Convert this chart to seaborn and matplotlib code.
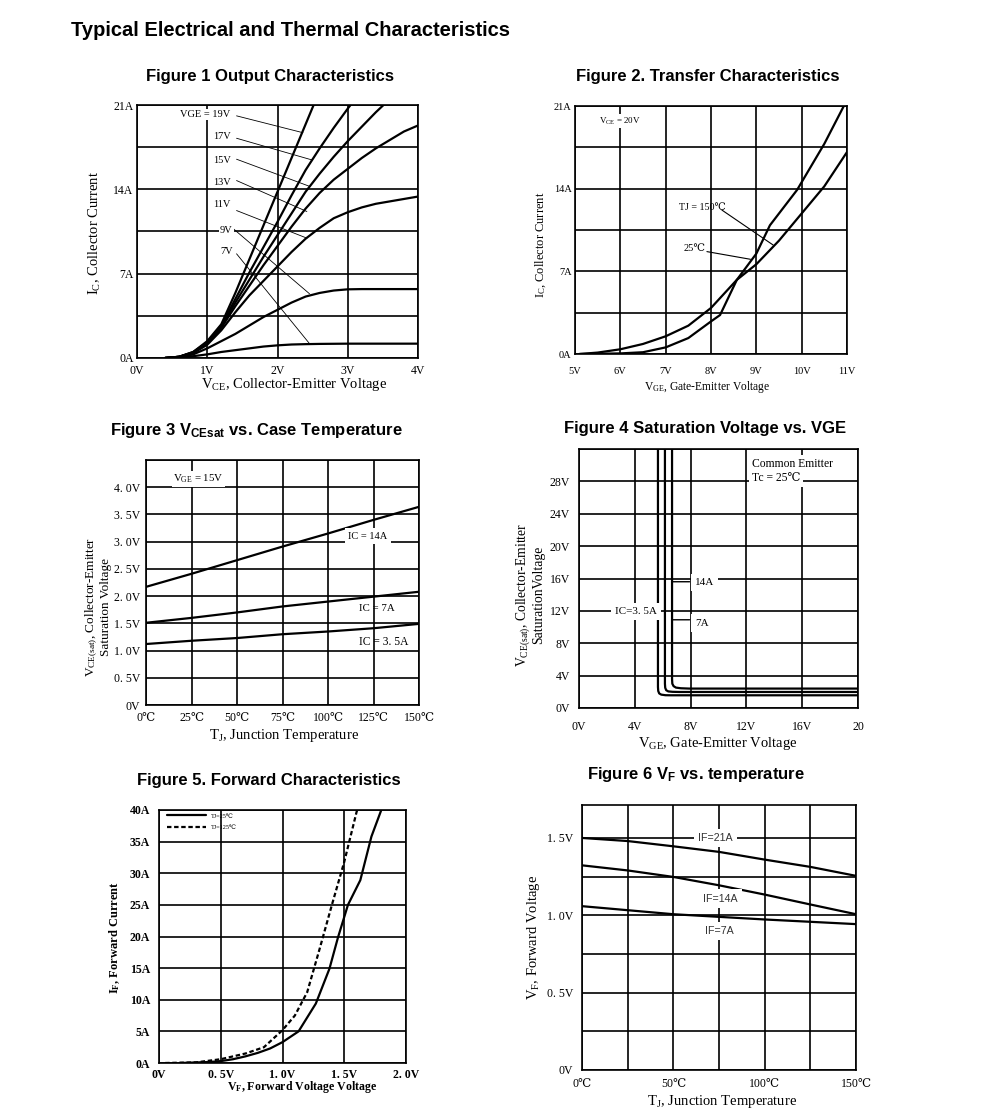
import numpy as np
import pandas as pd
import matplotlib
matplotlib.use("Agg")
import matplotlib.pyplot as plt
import seaborn as sns

sns.set_theme(style="white")
SERIF = ['Liberation Serif', 'DejaVu Serif', 'Noto Sans CJK SC']
SANS = ['Liberation Sans', 'DejaVu Sans', 'Noto Sans CJK SC']
plt.rcParams['font.family'] = SERIF
plt.rcParams['mathtext.default'] = 'regular'
plt.rcParams['text.color'] = 'black'
plt.rcParams['axes.labelcolor'] = 'black'
plt.rcParams['xtick.color'] = 'black'
plt.rcParams['ytick.color'] = 'black'

# ---------------- data ----------------
# Figure 1 output characteristics (VCE in V, IC in A)
f1_vce = [0.4, 0.6, 0.8, 1.0, 1.2, 1.4, 1.6, 1.8, 2.0, 2.2, 2.4, 2.6, 2.8, 3.0, 3.2, 3.4, 3.6, 3.8, 4.0]
f1_ic_19v = [0, 0.1, 0.5, 1.4, 2.8, 5.4, 8.2, 11.0, 13.8, 16.6, 19.4, 22.2]
f1_ic_17v = [0, 0.1, 0.5, 1.3, 2.7, 4.9, 7.1, 9.2, 11.3, 13.5, 15.6, 17.4, 19.1, 20.7, 22.2]
f1_ic_15v = [0, 0.1, 0.45, 1.25, 2.6, 4.6, 6.5, 8.4, 10.2, 12.0, 13.8, 15.3, 16.7, 18.0, 19.2, 20.4, 21.5]
f1_ic_13v = [0, 0.1, 0.45, 1.2, 2.5, 4.3, 6.0, 7.7, 9.3, 10.9, 12.4, 13.7, 14.8, 15.7, 16.6, 17.4, 18.1, 18.8, 19.3]
f1_ic_11v = [0, 0.1, 0.4, 1.1, 2.3, 3.8, 5.2, 6.4, 7.6, 8.8, 9.9, 10.8, 11.6, 12.1, 12.5, 12.8, 13.0, 13.2, 13.4]
f1_ic_9v = [0, 0.05, 0.3, 0.8, 1.4, 2.0, 2.7, 3.4, 4.0, 4.6, 5.1, 5.4, 5.6, 5.7, 5.72, 5.72, 5.72, 5.72, 5.72]
f1_ic_7v = [0, 0.03, 0.15, 0.3, 0.5, 0.65, 0.8, 0.95, 1.05, 1.12, 1.15, 1.17, 1.18, 1.19, 1.19, 1.19, 1.19, 1.19, 1.19]
f1_vge_labels = ["VGE = 19V", "17V", "15V", "13V", "11V", "9V", "7V"]

# Figure 2 transfer characteristics (VGE in V, IC in A)
f2_vge_150 = [5.1, 5.5, 6.0, 6.5, 7.0, 7.5, 8.0, 8.57, 9.0, 9.5, 10.0, 10.5, 11.0]
f2_ic_150 = [0, 0.12, 0.4, 0.85, 1.5, 2.4, 3.9, 6.28, 7.6, 9.6, 11.9, 14.2, 17.1]
f2_vge_25 = [5.1, 6.0, 6.5, 7.0, 7.5, 8.0, 8.2, 8.57, 9.0, 9.3, 9.9, 10.5, 10.93]
f2_ic_25 = [0, 0.05, 0.15, 0.56, 1.35, 2.76, 3.3, 6.28, 8.5, 10.9, 13.9, 17.8, 21.0]

# Figure 3 VCEsat vs temperature
f3_tj = [0, 25, 50, 75, 100, 125, 150]
f3_v_14a = [2.17, 2.41, 2.66, 2.91, 3.15, 3.40, 3.64]
f3_v_7a = [1.51, 1.60, 1.70, 1.81, 1.90, 1.99, 2.08]
f3_v_35a = [1.12, 1.18, 1.23, 1.30, 1.35, 1.41, 1.49]

# Figure 4 saturation voltage vs VGE
f4_vge_35a = [5.66, 5.66, 5.68, 5.75, 5.9, 6.2, 6.6, 20]
f4_vce_35a = [32, 2.6, 2.1, 1.8, 1.65, 1.58, 1.57, 1.57]
f4_vge_7a = [6.16, 6.16, 6.18, 6.25, 6.4, 6.7, 7.2, 20]
f4_vce_7a = [32, 3.0, 2.5, 2.2, 2.05, 2.0, 1.98, 1.98]
f4_vge_14a = [6.67, 6.67, 6.69, 6.78, 6.95, 7.3, 7.9, 20]
f4_vce_14a = [32, 3.6, 3.0, 2.7, 2.52, 2.44, 2.40, 2.40]

# Figure 5 forward characteristics
f5_vf_25 = [0.17, 0.41, 0.5, 0.6, 0.7, 0.8, 0.9, 1.0, 1.13, 1.27, 1.38, 1.45, 1.53, 1.63, 1.72, 1.80]
f5_if_25 = [0, 0.16, 0.3, 0.6, 1.05, 1.6, 2.3, 3.3, 5.0, 9.4, 14.9, 19.9, 25.0, 28.9, 35.8, 40.0]
f5_vf_125 = [0.05, 0.3, 0.5, 0.7, 0.85, 1.0, 1.1, 1.2, 1.3, 1.4, 1.5, 1.6, 1.605]
f5_if_125 = [0, 0.1, 0.6, 1.5, 2.5, 5.2, 7.5, 11.2, 18.0, 25.0, 31.8, 39.7, 40.0]

# Figure 6 VF vs temperature
f6_tj = [0, 25, 50, 75, 100, 125, 150]
f6_v_21a = [1.50, 1.48, 1.446, 1.41, 1.36, 1.313, 1.255]
f6_v_14a = [1.323, 1.29, 1.248, 1.194, 1.134, 1.07, 1.007]
f6_v_7a = [1.059, 1.033, 1.007, 0.99, 0.973, 0.958, 0.943]

# ---------------- layout helpers ----------------
W, H = 991, 1119
fig = plt.figure(figsize=(W / 100, H / 100), dpi=100)
fig.patch.set_facecolor('white')


def add_ax(l, t, r, b):
    return fig.add_axes([l / W, 1 - b / H, (r - l) / W, (b - t) / H])


def ftext(x, y, s, **kw):
    fig.text(x / W, 1 - y / H, s, color='black', **kw)


GRID_LW = 1.2
LINE_LW = 1.6
WHITE_BOX = dict(facecolor='white', edgecolor='none', pad=1)
LAB_FS = 10.5


def style(ax, xlim, ylim, xt, xl, yt, yl, xpad, ypad, fs, weight='normal'):
    ax.set_xlim(*xlim)
    ax.set_ylim(*ylim)
    ax.set_xticks(xt)
    ax.set_xticklabels(xl, fontsize=fs, fontweight=weight, family=SERIF, color='black')
    ax.set_yticks(yt)
    ax.set_yticklabels(yl, fontsize=fs, fontweight=weight, family=SERIF, color='black')
    ax.tick_params(length=0, colors='black')
    ax.tick_params(axis='x', pad=xpad)
    ax.tick_params(axis='y', pad=ypad)
    ax.grid(True, color='black', lw=GRID_LW)
    ax.set_axisbelow(True)
    for s in ax.spines.values():
        s.set_visible(True)
        s.set_color('black')
        s.set_linewidth(GRID_LW)
    ax.set_xlabel('')
    ax.set_ylabel('')
    ax.set_facecolor('white')


def curve(ax, x, y, **kw):
    sns.lineplot(x=list(x), y=list(y), ax=ax, color='black', lw=kw.pop('lw', LINE_LW),
                 sort=False, estimator=None, **kw)


def leader(ax, a, b, lw=0.6):
    ax.annotate('', xy=b, xytext=a, arrowprops=dict(arrowstyle='-', lw=lw, color='black',
                                                    shrinkA=0, shrinkB=0))


# main title
ftext(71, 30, "Typical Electrical and Thermal Characteristics", ha='left', va='center',
      fontsize=14.5, fontweight='bold', family=SANS)

TITLE_FS = 12

# ---------------- Figure 1 ----------------
ax1 = add_ax(137, 105, 418, 358)
for ys in [f1_ic_19v, f1_ic_17v, f1_ic_15v, f1_ic_13v, f1_ic_11v, f1_ic_9v, f1_ic_7v]:
    curve(ax1, f1_vce[:len(ys)], ys)
style(ax1, (0, 4), (0, 21), [0, 1, 2, 3, 4], ["0V", "1V", "2V", "3V", "4V"],
      [0, 3.5, 7, 10.5, 14, 17.5, 21], ["0A", "", "7A", "", "14A", "", "21A"], 5, 2.5, 8.5)
f1_label_pos = [(0.61, 20.2), (1.09, 18.4), (1.09, 16.4), (1.09, 14.6), (1.09, 12.7), (1.18, 10.6), (1.18, 8.8)]
f1_leaders = [((1.417, 20.1), (2.362, 18.7)), ((1.417, 18.24), (2.49, 16.44)),
              ((1.417, 16.5), (2.465, 14.23)), ((1.417, 14.73), (2.418, 12.16)),
              ((1.417, 12.24), (2.418, 9.95)), ((1.379, 10.69), (2.456, 5.33)),
              ((1.417, 8.65), (2.456, 1.19))]
for lab, (px, py) in zip(f1_vge_labels, f1_label_pos):
    ax1.text(px, py, lab, ha='left', va='center', fontsize=7.5, bbox=WHITE_BOX, zorder=4)
for (a, b) in f1_leaders:
    leader(ax1, a, b)
ftext(270, 77, "Figure 1 Output Characteristics", ha='center', va='center',
      fontsize=TITLE_FS, fontweight='bold', family=SANS)
ftext(95, 233, "I$_{C}$, Collector Current", rotation=90, ha='center', va='center', fontsize=LAB_FS)
ftext(294, 385, "V$_{CE}$, Collector-Emitter Voltage", ha='center', va='center', fontsize=LAB_FS)

# ---------------- Figure 2 ----------------
ax2 = add_ax(575, 106, 847, 354)
curve(ax2, f2_vge_150, f2_ic_150)
curve(ax2, f2_vge_25, f2_ic_25)
style(ax2, (5, 11), (0, 21), [5, 6, 7, 8, 9, 10, 11],
      ["5V", "6V", "7V", "8V", "9V", "10V", "11V"],
      [0, 3.5, 7, 10.5, 14, 17.5, 21], ["0A", "", "7A", "", "14A", "", "21A"], 9, 2.5, 7.5)
ax2.text(5.52, 19.7, "V$_{CE}$ = 20V", ha='left', va='center', fontsize=6.5, bbox=WHITE_BOX, zorder=4)
ax2.text(7.3, 12.4, "TJ = 150℃", ha='left', va='center', fontsize=7.2, zorder=4)
ax2.text(7.39, 8.95, "25℃", ha='left', va='center', fontsize=7.5, zorder=4)
leader(ax2, (8.24, 12.19), (9.37, 9.23), lw=0.8)
leader(ax2, (7.91, 8.67), (8.87, 8.02), lw=0.8)
ftext(708, 76, "Figure 2. Transfer Characteristics", ha='center', va='center',
      fontsize=TITLE_FS, fontweight='bold', family=SANS)
ftext(541, 245, "I$_{C}$, Collector Current", rotation=90, ha='center', va='center', fontsize=9)
ftext(707, 387, "V$_{GE}$, Gate-Emitter Voltage", ha='center', va='center', fontsize=8.3)

# ---------------- Figure 3 ----------------
ax3 = add_ax(146, 460, 419, 705)
curve(ax3, f3_tj, f3_v_14a)
curve(ax3, f3_tj, f3_v_7a)
curve(ax3, f3_tj, f3_v_35a)
style(ax3, (0, 150), (0, 4.5), [0, 25, 50, 75, 100, 125, 150],
      ["0℃", "25℃", "50℃", "75℃", "100℃", "125℃", "150℃"],
      [0, 0.5, 1, 1.5, 2, 2.5, 3, 3.5, 4, 4.5],
      ["0V", "0. 5V", "1. 0V", "1. 5V", "2. 0V", "2. 5V", "3. 0V", "3. 5V", "4. 0V", ""], 5, 4, 8.5)
ax3.text(15, 4.15, "V$_{GE}$ = 15V", ha='left', va='center', fontsize=7.8, bbox=WHITE_BOX, zorder=4)
ax3.text(111, 3.1, "IC = 14A", ha='left', va='center', fontsize=7.5,
         bbox=dict(facecolor='white', edgecolor='none', pad=2.5), zorder=4)
ax3.text(117, 1.78, "IC = 7A", ha='left', va='center', fontsize=7.8, zorder=4)
ax3.text(117, 1.15, "IC = 3. 5A", ha='left', va='center', fontsize=8.3, zorder=4)
ftext(256, 430, "Figure 3 V$_{CEsat}$ vs. Case Temperature", ha='center', va='center',
      fontsize=TITLE_FS, fontweight='bold', family=SANS)
ftext(98, 607, "V$_{CE(sat)}$, Collector-Emitter\nSaturation Voltage", rotation=90,
      ha='center', va='center', fontsize=9.5, multialignment='center', linespacing=1.0)
ftext(284, 735, "T$_{J}$, Junction Temperature", ha='center', va='center', fontsize=LAB_FS)

# ---------------- Figure 4 ----------------
ax4 = add_ax(579, 449, 858, 708)
curve(ax4, f4_vge_35a, f4_vce_35a)
curve(ax4, f4_vge_7a, f4_vce_7a)
curve(ax4, f4_vge_14a, f4_vce_14a)
style(ax4, (0, 20), (0, 32), [0, 4, 8, 12, 16, 20], ["0V", "4V", "8V", "12V", "16V", "20"],
      [0, 4, 8, 12, 16, 20, 24, 28, 32],
      ["0V", "4V", "8V", "12V", "16V", "20V", "24V", "28V", ""], 9, 6.5, 8.5)
ax4.text(12.4, 30.2, "Common Emitter", ha='left', va='center', fontsize=8.4,
         bbox=dict(facecolor='white', edgecolor='none', pad=2), zorder=4)
ax4.text(12.4, 28.4, "Tc = 25℃", ha='left', va='center', fontsize=8.4,
         bbox=dict(facecolor='white', edgecolor='none', pad=2), zorder=4)
ax4.text(5.6, 11.9, "IC=3. 5A", ha='right', va='center', fontsize=8,
         bbox=dict(facecolor='white', edgecolor='none', pad=3), zorder=4)
ax4.text(8.3, 15.5, "14A", ha='left', va='center', fontsize=8,
         bbox=dict(facecolor='white', edgecolor='none', pad=3), zorder=4)
ax4.text(8.3, 10.5, "7A", ha='left', va='center', fontsize=8,
         bbox=dict(facecolor='white', edgecolor='none', pad=3), zorder=4)
leader(ax4, (7.93, 15.6), (6.74, 15.6), lw=1.0)
leader(ax4, (7.93, 10.9), (6.74, 10.9), lw=1.0)
ftext(705, 428, "Figure 4 Saturation Voltage vs. VGE", ha='center', va='center',
      fontsize=TITLE_FS, fontweight='bold', family=SANS)
ftext(530, 595, "V$_{CE(sat)}$, Collector-Emitter\nSaturationVoltage", rotation=90,
      ha='center', va='center', fontsize=9.8, multialignment='center', linespacing=1.0)
ftext(718, 743, "V$_{GE}$, Gate-Emitter Voltage", ha='center', va='center', fontsize=LAB_FS)

# ---------------- Figure 5 ----------------
ax5 = add_ax(159, 810, 406, 1063)
sns.lineplot(x=f5_vf_25, y=f5_if_25, ax=ax5, color='black', lw=LINE_LW, sort=False,
             estimator=None, label="TJ=25℃")
sns.lineplot(x=f5_vf_125, y=f5_if_125, ax=ax5, color='black', lw=LINE_LW, sort=False,
             estimator=None, label="TJ=125℃", linestyle=(0, (2.0, 1.2)))
style(ax5, (0, 2), (0, 40), [0, 0.5, 1, 1.5, 2], ["0V", "0. 5V", "1. 0V", "1. 5V", "2. 0V"],
      [0, 5, 10, 15, 20, 25, 30, 35, 40],
      ["0A", "5A", "10A", "15A", "20A", "25A", "30A", "35A", "40A"], 4, 6.5, 8.5, 'bold')
leg = ax5.legend(loc='upper left', bbox_to_anchor=(0.02, 1.0), frameon=False, fontsize=4.5,
                 handlelength=6.2, handletextpad=0.8, labelspacing=1.0, borderaxespad=0.3,
                 borderpad=0.2)
for t in leg.get_texts():
    t.set_color('black')
ftext(269, 781, "Figure 5. Forward Characteristics", ha='center', va='center',
      fontsize=TITLE_FS, fontweight='bold', family=SANS)
ftext(115, 938, "I$_{F}$, Forward Current", rotation=90, ha='center', va='center',
      fontsize=9, fontweight='bold')
ftext(302, 1087, "V$_{F}$, Forward Voltage Voltage", ha='center', va='center', fontsize=8.6,
      fontweight='bold')

# ---------------- Figure 6 ----------------
ax6 = add_ax(582, 805, 856, 1070)
curve(ax6, f6_tj, f6_v_21a)
curve(ax6, f6_tj, f6_v_14a)
curve(ax6, f6_tj, f6_v_7a)
style(ax6, (0, 150), (0, 1.713), [0, 25, 50, 75, 100, 125, 150],
      ["0℃", "", "50℃", "", "100℃", "", "150℃"],
      [0, 0.25, 0.5, 0.75, 1.0, 1.25, 1.5], ["0V", "", "0. 5V", "", "1. 0V", "", "1. 5V"],
      6, 6.5, 8.5)
for lab, (tx, vy) in zip(["IF=21A", "IF=14A", "IF=7A"], [(73, 1.5), (75.6, 1.108), (75, 0.90)]):
    ax6.text(tx, vy, lab, ha='center', va='center', fontsize=7.7, family=SANS, color='#333333',
             bbox=dict(facecolor='white', edgecolor='none', pad=3), zorder=4)
ftext(696, 774, "Figure 6 V$_{F}$ vs. temperature", ha='center', va='center',
      fontsize=TITLE_FS, fontweight='bold', family=SANS)
ftext(533, 937, "V$_{F}$, Forward Voltage", rotation=90, ha='center', va='center', fontsize=LAB_FS)
ftext(722, 1102, "T$_{J}$, Junction Temperature", ha='center', va='center', fontsize=LAB_FS)

fig.savefig("out.png", dpi=100, facecolor='white')
